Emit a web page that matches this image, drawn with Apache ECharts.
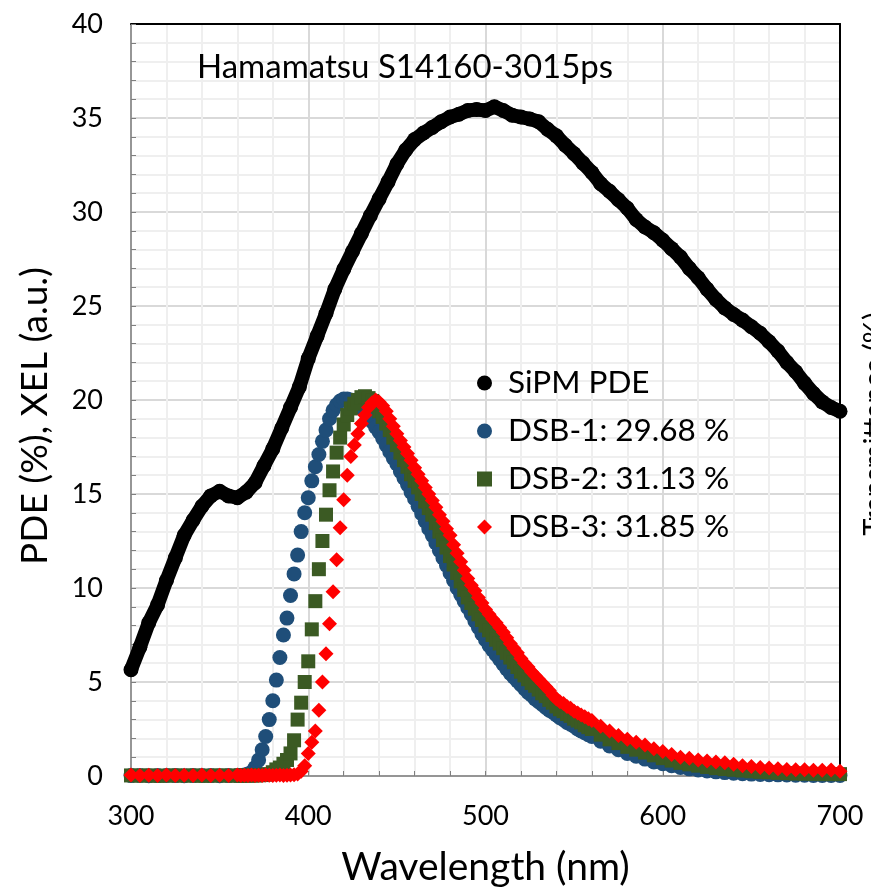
<!DOCTYPE html>
<html><head><meta charset="utf-8">
<script src="https://cdn.jsdelivr.net/npm/echarts@6/dist/echarts.min.js"></script>
<style>html,body{margin:0;padding:0;background:#fff}#c{width:871px;height:895px}</style>
</head><body><div id="c"></div>
<script>
// ---- data ----
const seriesNames = ['SiPM PDE', 'DSB-1: 29.68 %', 'DSB-2: 31.13 %', 'DSB-3: 31.85 %'];
const annotation = 'Hamamatsu S14160-3015ps';
const xTitle = 'Wavelength (nm)';
const yTitle = 'PDE (%), XEL (a.u.)';
const y2Title = 'Transmittance (%)';

const wlPDE = [300,305,310,315,320,325,330,335,340,345,350,355,360,365,370,375,380,385,390,395,
  400,405,410,415,420,425,430,435,440,445,450,455,460,465,470,475,480,485,490,495,
  500,505,510,515,520,525,530,535,540,545,550,555,560,565,570,575,580,585,590,595,
  600,605,610,615,620,625,630,635,640,645,650,655,660,665,670,675,680,685,690,695,700];
const pde = [5.65,6.85,8.15,9.1,10.4,11.6,12.8,13.6,14.35,14.9,15.15,14.9,14.8,15.1,15.6,16.5,17.4,18.5,19.6,20.7,
  22.2,23.4,24.6,25.9,26.95,27.9,28.85,29.8,30.7,31.6,32.55,33.3,33.85,34.2,34.5,34.8,35.05,35.2,35.4,35.45,
  35.4,35.6,35.4,35.15,35.05,34.95,34.8,34.4,34.05,33.55,33.1,32.6,32.1,31.5,31.1,30.65,30.2,29.6,29.2,28.9,
  28.5,28.05,27.6,27.0,26.5,25.9,25.35,24.9,24.55,24.25,23.9,23.55,23.1,22.6,22.0,21.5,20.9,20.35,19.9,19.6,19.4];

const wlDSB = [300,305,310,315,320,325,330,335,340,345,350,355,360,
  362,364,366,368,370,372,374,376,378,380,
  382,384,386,388,390,392,394,396,398,400,
  402,404,406,408,410,412,414,416,418,420,
  422,424,426,428,430,432,434,436,438,440,
  442,444,446,448,450,452,454,456,458,460,
  462,464,466,468,470,472,474,476,478,480,
  482,484,486,488,490,492,494,496,498,500,
  502,504,506,508,510,512,514,516,518,520,
  522,524,526,528,530,532,534,536,538,540,
  542,544,546,548,550,552,554,556,558,560,
  565,570,575,580,585,590,595,600,605,610,615,620,625,630,635,640,645,650,655,660,665,670,675,680,685,690,695,700];

const dsb1 = [0.02,0.03,0.01,0.02,0.03,0.02,0.01,0.02,0.03,0.02,0.01,0.02,0.03,
  0.03,0.05,0.1,0.2,0.45,0.85,1.4,2.1,3.0,4.0,
  5.1,6.3,7.5,8.4,9.6,10.75,11.75,13.0,14.0,14.8,
  15.7,16.45,17.1,17.8,18.4,19.0,19.45,19.75,19.95,20.05,
  20.05,20.0,19.9,19.75,19.55,19.35,19.1,18.85,18.55,18.3,
  17.95,17.6,17.25,16.9,16.6,16.2,15.85,15.5,15.1,14.75,
  14.35,13.95,13.55,13.15,12.8,12.4,12.0,11.6,11.2,10.8,
  10.4,10.0,9.65,9.3,8.95,8.6,8.25,7.9,7.55,7.25,
  6.95,6.7,6.45,6.2,5.95,5.7,5.45,5.25,5.05,4.85,
  4.65,4.45,4.3,4.1,3.95,3.8,3.65,3.5,3.4,3.25,
  3.1,3.0,2.85,2.75,2.65,2.5,2.4,2.3,2.2,2.1,
  1.85,1.6,1.4,1.2,1.05,0.9,0.75,0.65,0.55,0.45,0.38,0.32,0.27,0.22,0.18,0.15,0.12,0.1,0.08,0.07,0.06,0.05,0.04,0.04,0.03,0.03,0.03,0.03];

const dsb2 = [0.03,0.02,0.03,0.01,0.02,0.03,0.02,0.03,0.01,0.02,0.03,0.02,0.02,
  0.02,0.03,0.02,0.03,0.03,0.04,0.05,0.07,0.1,0.2,
  0.35,0.45,0.65,0.85,1.2,1.9,3.0,3.9,5.0,6.1,
  7.8,9.3,11.0,12.5,13.9,15.2,16.2,17.2,18.0,18.7,
  19.2,19.55,19.8,20.0,20.15,20.2,20.1,19.95,19.7,19.4,
  19.1,18.75,18.4,18.0,17.6,17.2,16.8,16.45,16.05,15.7,
  15.35,15.0,14.6,14.25,13.9,13.45,13.0,12.55,12.15,11.7,
  11.25,10.8,10.35,9.9,9.5,9.2,8.9,8.6,8.3,8.0,
  7.75,7.5,7.25,7.05,6.8,6.55,6.3,6.05,5.8,5.55,
  5.35,5.15,4.95,4.8,4.6,4.4,4.25,4.05,3.9,3.7,
  3.55,3.45,3.3,3.2,3.05,2.95,2.85,2.7,2.6,2.5,
  2.2,1.95,1.75,1.55,1.4,1.25,1.1,0.95,0.82,0.7,0.62,0.55,0.48,0.42,0.37,0.33,0.29,0.25,0.22,0.2,0.17,0.15,0.13,0.12,0.11,0.1,0.1,0.1];

const dsb3 = [0.05,0.03,0.04,0.02,0.05,0.03,0.04,0.03,0.05,0.02,0.04,0.03,0.05,
  0.03,0.04,0.02,0.05,0.03,0.04,0.03,0.05,0.04,0.03,
  0.04,0.05,0.03,0.04,0.05,0.06,0.1,0.25,0.55,1.2,
  1.8,2.4,3.5,5.0,6.5,8.1,9.8,11.5,13.2,14.7,
  16.0,17.0,17.6,18.2,18.75,19.2,19.6,19.85,20.0,19.9,
  19.7,19.4,19.0,18.6,18.2,17.85,17.5,17.15,16.8,16.4,
  16.05,15.7,15.35,15.0,14.65,14.3,13.9,13.55,13.15,12.8,
  12.3,11.85,11.4,10.95,10.5,10.15,9.85,9.5,9.2,8.85,
  8.6,8.35,8.15,7.9,7.65,7.35,7.05,6.8,6.55,6.25,
  6.0,5.8,5.55,5.35,5.15,4.95,4.75,4.55,4.3,4.1,
  3.95,3.85,3.7,3.6,3.45,3.35,3.25,3.15,3.05,2.95,
  2.65,2.4,2.15,1.95,1.8,1.65,1.45,1.3,1.15,1.0,0.95,0.85,0.8,0.75,0.7,0.62,0.55,0.5,0.45,0.42,0.38,0.35,0.33,0.33,0.3,0.3,0.32,0.25];

// ---- chart ----
const FONT = 'Lato, "Open Sans", sans-serif';
const pair = (xs, ys) => xs.map((x, i) => [x, ys[i]]);
const chart = echarts.init(document.getElementById('c'), null, {renderer: 'canvas'});

const gridAxisCommon = {
  axisTick: {show: true, inside: true, length: 5, lineStyle: {color: '#7f7f7f', width: 1}},
  minorTick: {show: true, splitNumber: 5, length: 5, lineStyle: {color: '#7f7f7f', width: 1}},
  splitLine: {show: true, lineStyle: {color: '#d9d9d9', width: 2}},
  minorSplitLine: {show: true, lineStyle: {color: '#efefef', width: 2}},
};

chart.setOption({
  animation: false,
  backgroundColor: '#fff',
  grid: {left: 131, right: 31, top: 24, bottom: 119},
  xAxis: [
    Object.assign({
      type: 'value', min: 300, max: 700, interval: 100, position: 'bottom',
      name: xTitle, nameLocation: 'middle', nameGap: 72,
      nameTextStyle: {fontSize: 39, color: '#000', fontFamily: FONT},
      axisLine: {show: true, onZero: false, lineStyle: {color: '#7f7f7f', width: 1.5}},
      axisLabel: {fontSize: 27, color: '#000', margin: 27, fontFamily: FONT}
    }, gridAxisCommon),
    {type: 'value', min: 300, max: 700, interval: 100, position: 'top',
      axisLine: {show: true, onZero: false, lineStyle: {color: '#000', width: 2}},
      axisTick: {show: false}, axisLabel: {show: false}, splitLine: {show: false}}
  ],
  yAxis: [
    Object.assign({
      type: 'value', min: 0, max: 40, interval: 5, position: 'left',
      axisLine: {show: true, onZero: false, lineStyle: {color: '#7f7f7f', width: 1.5}},
      axisLabel: {fontSize: 27, color: '#000', margin: 28, fontFamily: FONT}
    }, gridAxisCommon),
    {type: 'value', min: 0, max: 40, interval: 5, position: 'right',
      axisLine: {show: true, onZero: false, lineStyle: {color: '#000', width: 2}},
      axisTick: {show: false}, axisLabel: {show: false}, splitLine: {show: false}}
  ],
  legend: {
    orient: 'vertical', left: 472, top: 362, itemGap: 16, itemWidth: 15, itemHeight: 15,
    textStyle: {fontSize: 31.5, color: '#000', fontFamily: FONT, padding: [0, 0, 0, 11]},
    data: [
      {name: seriesNames[0], icon: 'circle'},
      {name: seriesNames[1], icon: 'circle'},
      {name: seriesNames[2], icon: 'rect'},
      {name: seriesNames[3], icon: 'diamond'}
    ]
  },
  graphic: [
    {type: 'text', x: 197, y: 67, z: 100,
      style: {text: annotation, fontSize: 33, fill: '#000', fontFamily: FONT, align: 'left', verticalAlign: 'middle'}},
    {type: 'text', x: 35, y: 416, rotation: Math.PI / 2, z: 100,
      style: {text: yTitle, fontSize: 37, fill: '#000', fontFamily: FONT, align: 'center', verticalAlign: 'middle'}},
    {type: 'text', x: 860, y: 424, rotation: Math.PI / 2, z: 100,
      style: {text: y2Title, fontSize: 29, fill: '#000', fontFamily: FONT, align: 'center', verticalAlign: 'top'}}
  ],
  series: [
    {name: seriesNames[0], type: 'line', data: pair(wlPDE, pde), symbol: 'circle', symbolSize: 15,
      showAllSymbol: true, itemStyle: {color: '#000'},
      lineStyle: {color: '#000', width: 14, cap: 'round', join: 'round'}, z: 2},
    {name: seriesNames[1], type: 'scatter', data: pair(wlDSB, dsb1), symbol: 'circle', symbolSize: 15,
      itemStyle: {color: '#1f4e79', opacity: 1}, z: 3},
    {name: seriesNames[2], type: 'scatter', data: pair(wlDSB, dsb2), symbol: 'rect', symbolSize: 14,
      itemStyle: {color: '#3b5a23', opacity: 1}, z: 4},
    {name: seriesNames[3], type: 'scatter', data: pair(wlDSB, dsb3), symbol: 'diamond', symbolSize: 15,
      itemStyle: {color: '#ff0000', opacity: 1}, z: 5}
  ]
});
</script>
</body></html>
